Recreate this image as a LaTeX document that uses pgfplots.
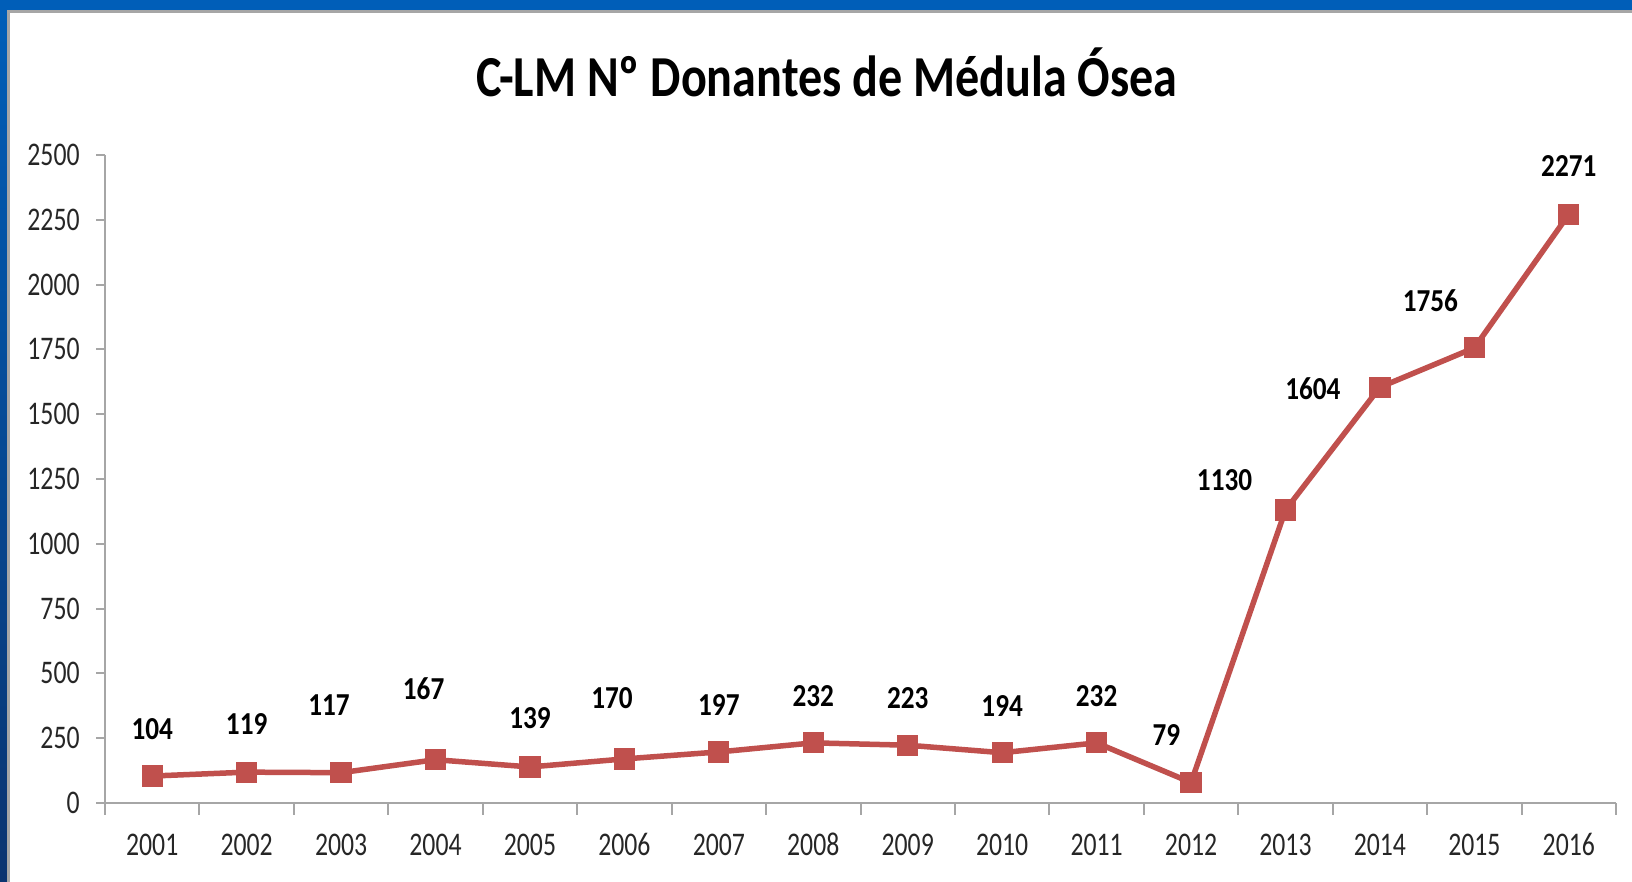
\documentclass[border=0pt]{standalone}
\usepackage{pgfplots}
\pgfplotsset{compat=1.18}
\usepackage{pgfplotstable}
\usepackage{fontspec}
\setmainfont{Carlito}
\newfontfamily\cfont[FakeStretch=0.78]{Carlito}
\newfontfamily\lfont[FakeStretch=0.85]{Carlito}
\newfontfamily\tfont[FakeStretch=0.83]{Carlito}
\definecolor{serred}{HTML}{C0504D}
\definecolor{slideblue}{HTML}{005EB8}
\definecolor{slidenavy}{HTML}{0B3470}
\definecolor{axgray}{HTML}{A6A6A6}
\pgfplotstableread{
x y lx ly
1 104 1 285
2 119 2 305
3 117 2.872 378
4 167 3.874 442
5 139 5 326
6 170 5.868 406
7 197 7 378
8 232 8 414
9 223 9 406
10 194 10 374
11 232 11 414
12 79 11.738 261
13 1130 12.355 1246
14 1604 13.29 1600
15 1756 14.535 1937
16 2271 16 2456
}\data
\begin{document}
\begin{tikzpicture}
% slide background
\fill[slideblue] (0,0) rectangle (816pt,441pt);
\shade[top color=slideblue, bottom color=slidenavy] (0,0) rectangle (3.5pt,436pt);
\fill[gray!70] (3.5pt,0) rectangle (816pt,436pt);
\fill[white] (4.75pt,0) rectangle (816pt,434.5pt);
\node[font=\tfont\bfseries\fontsize{29}{29}\selectfont, text=black, anchor=center] at (413.5pt,404.6pt) {C-LM Nº Donantes de Médula Ósea};
\begin{axis}[
  at={(52.5pt,39.5pt)}, anchor=south west,
  scale only axis, width=755.5pt, height=324pt,
  xmin=0.5, xmax=16.5, ymin=0, ymax=2500,
  axis x line*=bottom, axis y line*=left,
  axis line style={-, draw=axgray, line width=1pt},
  tick align=outside,
  xtick={1,...,16},
  xticklabels={2001,2002,2003,2004,2005,2006,2007,2008,2009,2010,2011,2012,2013,2014,2015,2016},
  minor xtick={0.5,1.5,...,16.5},
  every major x tick/.append style={draw=none},
  every minor x tick/.append style={draw=axgray, line width=1pt},
  minor tick length=6pt,
  major tick length=4.5pt,
  ytick={0,250,...,2500},
  every major y tick/.append style={draw=axgray, line width=1pt},
  tick label style={font=\cfont\fontsize{16.5}{16.5}\selectfont, text=black!85, inner sep=0pt},
  /pgf/number format/assume math mode=true,
  /pgf/number format/1000 sep={},
  yticklabel style={anchor=east, xshift=-8pt},
  xticklabel style={anchor=center, yshift=-16.3pt},
  clip=false,
]
\addplot[color=serred, line width=2.75pt, mark=square*, mark size=5pt,
  mark options={solid, fill=serred, draw=serred, line width=0.6pt}]
  table[x=x, y=y]{\data};
\addplot[draw=none, mark=none, nodes near coords, point meta=explicit symbolic,
  every node near coord/.append style={anchor=center, inner sep=0pt,
    font=\lfont\bfseries\fontsize{16}{16}\selectfont, text=black}]
  table[x=lx, y=ly, meta=y]{\data};
\end{axis}
\end{tikzpicture}
\end{document}
